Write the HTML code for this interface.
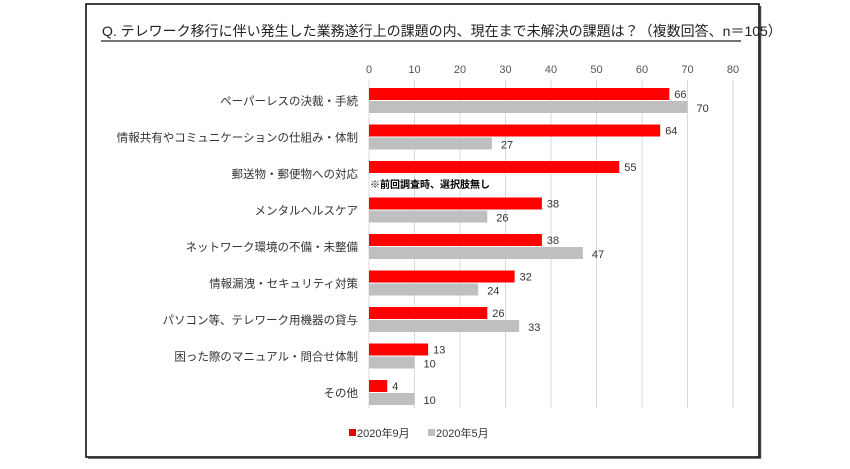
<!DOCTYPE html>
<html><head><meta charset="utf-8"><style>
body{margin:0;background:#fff;}
svg text{font-family:"Liberation Sans","Noto Sans CJK JP",sans-serif;}
</style></head><body>
<svg width="850" height="464">
<rect x="86" y="4" width="673" height="453" fill="#fff" stroke="#000" stroke-width="1.5"/>
<line x1="88" y1="458" x2="761" y2="458" stroke="#444" stroke-width="1.5"/>
<line x1="760.5" y1="6" x2="760.5" y2="458" stroke="#444" stroke-width="1.5"/>
<text x="102" y="36" font-size="14" fill="#222">Q. テレワーク移行に伴い発生した業務遂行上の課題の内、現在まで未解決の課題は？（複数回答、n＝105）</text>
<line x1="101" y1="41" x2="741" y2="41" stroke="#222" stroke-width="1.2"/>
<g id="grid"></g><g id="bars"></g>
<text x="370" y="188" font-size="10" font-weight="bold" fill="#000">※前回調査時、選択肢無し</text>
<rect x="349" y="429" width="7" height="7" fill="#e00"/>
<text x="357" y="437" font-size="11" fill="#333">2020年9月</text>
<rect x="428" y="429" width="7" height="7" fill="#bfbfbf"/>
<text x="436" y="437" font-size="11" fill="#333">2020年5月</text>
</svg>
<script>
const categories=["ペーパーレスの決裁・手続","情報共有やコミュニケーションの仕組み・体制","郵送物・郵便物への対応","メンタルヘルスケア","ネットワーク環境の不備・未整備","情報漏洩・セキュリティ対策","パソコン等、テレワーク用機器の貸与","困った際のマニュアル・問合せ体制","その他"];
const sep2020=[66,64,55,38,38,32,26,13,4];
const may2020=[70,27,null,26,47,24,33,10,10];
const ticks=[0,10,20,30,40,50,60,70,80];
const ns="http://www.w3.org/2000/svg";
const x0=369,pxPer=(733-369)/80,rowTop=101,rowStep=36.5,gridTop=80,gridBot=408;
const X=v=>x0+v*pxPer, Y=i=>rowTop+i*rowStep;
function mk(t,a,p){const e=document.createElementNS(ns,t);for(const k in a)e.setAttribute(k,a[k]);p.appendChild(e);return e;}
const g=document.getElementById('grid'),b=document.getElementById('bars');
ticks.forEach(t=>{
 const l=mk('line',{x1:X(t),x2:X(t),y1:gridTop,y2:gridBot,stroke:'#d9d9d9','stroke-width':1},g);
 
 
 const tx=mk('text',{x:X(t),y:73,'font-size':11,fill:'#555','text-anchor':'middle'},g);
 tx.textContent=t;
 
 
});
categories.forEach((c,i)=>{
 const cy=Y(i);
 const lab=mk('text',{x:358,y:cy+4,'font-size':11.5,fill:'#333','text-anchor':'end'},b);
 lab.textContent=c;
 
 
 const r=mk('rect',{x:x0,y:cy-13,width:X(sep2020[i])-x0,height:12,fill:'#f00'},b);
 
 
 const rt=mk('text',{x:X(sep2020[i])+5,y:cy-3,'font-size':11,fill:'#333'},b);
 rt.textContent=sep2020[i];
 
 
 if(may2020[i]!=null){
  const r2=mk('rect',{x:x0,y:cy,width:X(may2020[i])-x0,height:12,fill:'#bfbfbf'},b);
  
  
  const t2=mk('text',{x:X(may2020[i])+9,y:cy+11,'font-size':11,fill:'#333'},b);
  t2.textContent=may2020[i];
  
  
 }
});
</script>
</body></html>
